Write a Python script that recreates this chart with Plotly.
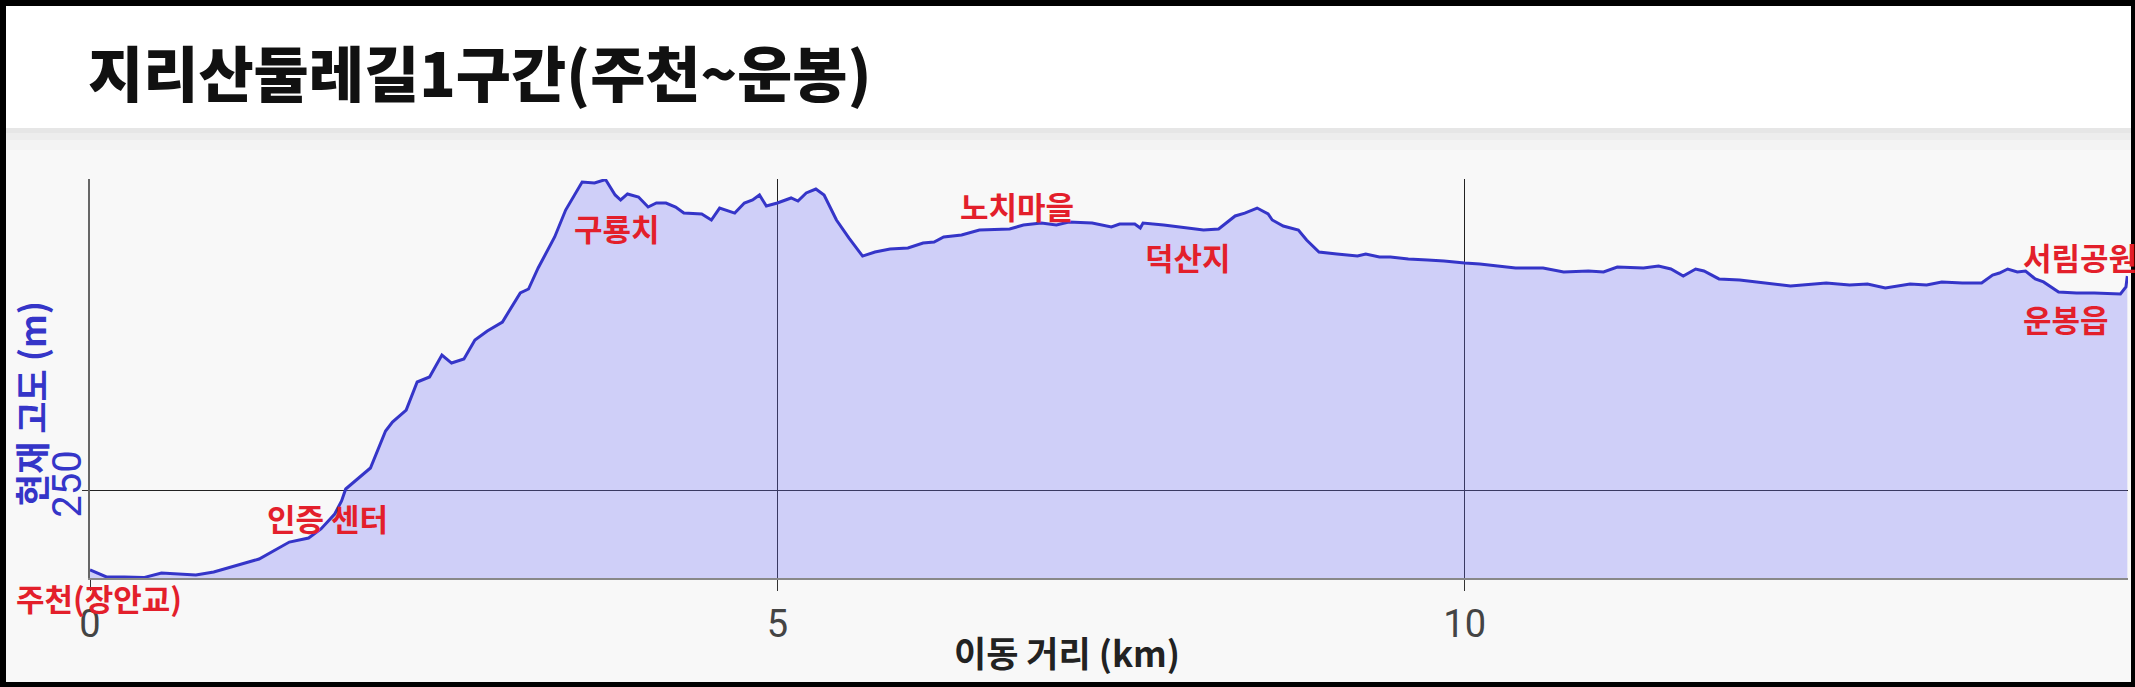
import plotly.graph_objects as go

# ---------------- data ----------------
distance_km = [
    0.00, 0.12, 0.25, 0.39, 0.52, 0.65, 0.77, 0.90, 1.03, 1.23, 1.36, 1.45, 1.59, 1.68,
    1.78, 1.83, 1.86, 1.94, 2.04, 2.15, 2.20, 2.30, 2.38, 2.47, 2.56, 2.63, 2.72, 2.80,
    2.89, 3.00, 3.13, 3.19, 3.26, 3.38, 3.46, 3.58, 3.67, 3.75, 3.82, 3.86, 3.91, 3.99,
    4.06, 4.12, 4.19, 4.26, 4.32, 4.45, 4.52, 4.58, 4.69, 4.76, 4.82, 4.87, 4.92, 5.00,
    5.10, 5.15, 5.21, 5.28, 5.34, 5.43, 5.52, 5.62, 5.71, 5.82, 5.95, 6.06, 6.14, 6.21,
    6.34, 6.47, 6.69, 6.79, 6.92, 7.03, 7.12, 7.29, 7.43, 7.49, 7.60, 7.64, 7.66, 7.81,
    7.94, 8.10, 8.21, 8.33, 8.40, 8.49, 8.57, 8.60, 8.68, 8.79, 8.85, 8.94, 9.07, 9.22,
    9.28, 9.38, 9.46, 9.59, 9.73, 9.85, 10.00, 10.11, 10.24, 10.37, 10.57, 10.72, 10.90,
    11.01, 11.11, 11.30, 11.41, 11.50, 11.59, 11.68, 11.74, 11.85, 12.00, 12.18, 12.37,
    12.63, 12.80, 12.93, 13.06, 13.24, 13.36, 13.47, 13.62, 13.76, 13.84, 13.89, 13.95,
    14.02, 14.08, 14.15, 14.21, 14.32, 14.45, 14.58, 14.77, 14.81, 14.82,
]
elevation_m = [
    186.4, 180.8, 180.8, 180.3, 184.0, 183.2, 182.4, 184.8, 188.8, 195.1, 203.1, 208.6, 211.8, 219.0,
    230.9, 241.3, 250.8, 258.0, 267.5, 296.9, 304.1, 313.6, 335.9, 339.9, 357.4, 351.0, 354.2, 369.3,
    376.5, 383.6, 406.7, 409.9, 426.6, 451.3, 472.7, 495.0, 494.2, 497.0, 484.7, 480.7, 485.5, 483.1,
    475.1, 478.3, 478.3, 475.1, 470.3, 469.6, 464.8, 474.3, 470.3, 478.3, 480.7, 484.7, 475.9, 478.3,
    482.3, 479.9, 486.3, 489.4, 484.7, 464.8, 450.5, 436.1, 439.3, 441.7, 442.5, 446.5, 447.3, 451.3,
    452.9, 456.8, 457.6, 460.8, 462.4, 460.8, 463.2, 462.4, 459.2, 461.6, 461.6, 458.4, 462.4, 460.8,
    459.2, 456.8, 457.6, 468.0, 470.3, 474.3, 469.6, 464.8, 460.0, 456.8, 448.9, 439.3, 437.7, 436.1,
    437.7, 435.3, 435.3, 433.8, 433.0, 432.2, 430.6, 429.8, 428.2, 426.6, 426.6, 423.4, 424.2,
    423.4, 427.4, 426.6, 428.2, 425.8, 420.2, 425.8, 424.2, 417.9, 417.1, 414.7, 412.3,
    414.7, 413.1, 413.9, 410.7, 413.9, 413.1, 415.5, 414.7, 414.7, 421.0, 422.6, 425.8,
    423.4, 424.2, 417.9, 415.5, 407.5, 406.7, 406.7, 405.9, 411.5, 420.2,
]

x_tick_values = [0, 5, 10]
x_tick_labels = ["0", "5", "10"]
y_tick_values = [250]
y_tick_labels = ["250"]

place_names = ["주천(장안교)", "인증 센터", "구룡치", "노치마을", "덕산지", "서림공원", "운봉읍"]

title_text = "지리산둘레길1구간(주천~운봉)"
x_title = "이동 거리 (km)"
y_title = "현재 고도 (m)"

# ---------------- layout geometry (pixels) ----------------
W, H = 2135, 687
PL, PR, PT, PB = 90, 2128, 179, 578   # plot area edges


def px(x):
    return (x - PL) / (PR - PL)


def py(y):
    return (PB - y) / (PB - PT)


KR = "Noto Sans CJK KR, Noto Sans CJK SC, sans-serif"
RED = "#e31f2b"
BLUE = "#3535c8"

fig = go.Figure()
fig.add_trace(go.Scatter(
    x=distance_km, y=elevation_m, mode="lines",
    line=dict(color=BLUE, width=3),
    fill="tozeroy", fillcolor="rgba(112,112,248,0.30)",
    hoverinfo="skip", showlegend=False,
))

shapes = [
    dict(type="rect", xref="paper", yref="paper", x0=px(6), x1=px(2131), y0=py(682), y1=py(6),
         fillcolor="#f8f8f8", line=dict(width=0), layer="below"),
    dict(type="rect", xref="paper", yref="paper", x0=px(6), x1=px(2131), y0=py(150), y1=py(128),
         fillcolor="#f3f3f3", line=dict(width=0), layer="below"),
    dict(type="rect", xref="paper", yref="paper", x0=px(6), x1=px(2131), y0=py(140), y1=py(128),
         fillcolor="#ededed", line=dict(width=0), layer="below"),
    dict(type="rect", xref="paper", yref="paper", x0=px(6), x1=px(2131), y0=py(133), y1=py(128),
         fillcolor="#e6e6e6", line=dict(width=0), layer="below"),
    dict(type="rect", xref="paper", yref="paper", x0=px(6), x1=px(2131), y0=py(128), y1=py(6),
         fillcolor="#ffffff", line=dict(width=0), layer="below"),
]

annotations = [
    dict(text=title_text, xref="paper", yref="paper", x=px(86), y=py(70),
         xanchor="left", yanchor="middle", showarrow=False,
         font=dict(family=KR, size=60, color="#111111", weight=900)),
    dict(text=x_title, xref="paper", yref="paper", x=px(1067), y=py(651),
         xanchor="center", yanchor="middle", showarrow=False,
         font=dict(family=KR, size=35, color="#222222", weight="bold")),
    dict(text=y_title, xref="paper", yref="paper", x=px(30), y=py(404),
         xanchor="center", yanchor="middle", showarrow=False, textangle=-90,
         font=dict(family=KR, size=35, color=BLUE, weight="bold")),
]

label_pos = [(14, 597), (265, 517), (572, 227), (958, 205), (1143, 256), (2021, 256), (2021, 318)]
for name, (lx, ly) in zip(place_names, label_pos):
    annotations.append(dict(
        text=name, xref="paper", yref="paper", x=px(lx), y=py(ly),
        xanchor="left", yanchor="middle", showarrow=False,
        font=dict(family=KR, size=31, color=RED, weight="bold"),
    ))

fig.update_layout(
    width=W, height=H, autosize=False,
    margin=dict(l=PL, r=W - PR, t=PT, b=H - PB, pad=0),
    paper_bgcolor="#000000", plot_bgcolor="#f8f8f8",
    shapes=shapes, annotations=annotations, showlegend=False,
    xaxis=dict(
        range=[0, 14.825], tickmode="array", tickvals=x_tick_values, ticktext=x_tick_labels,
        showgrid=True, gridcolor="#222222", gridwidth=1, zeroline=False,
        showline=True, linecolor="#888888", linewidth=2,
        ticks="outside", ticklen=11, tickcolor="#333333", tickwidth=1,
        tickfont=dict(family="Roboto, sans-serif", size=38, color="#444444"),
        fixedrange=True,
    ),
    yaxis=dict(
        range=[180, 497.4], tickmode="array", tickvals=y_tick_values, ticktext=y_tick_labels,
        showgrid=True, gridcolor="#222222", gridwidth=1, zeroline=False,
        showline=True, linecolor="#666666", linewidth=2,
        ticks="outside", ticklen=6, tickcolor="#333333", tickwidth=1, tickangle=-90,
        ticklabelstandoff=-15,
        tickfont=dict(family="Roboto, sans-serif", size=40, color=BLUE),
        fixedrange=True,
    ),
)

fig.write_html(
    "out.html",
    config={"displayModeBar": False},
    post_script="document.body.style.margin='0';document.body.style.overflow='hidden';",
)
